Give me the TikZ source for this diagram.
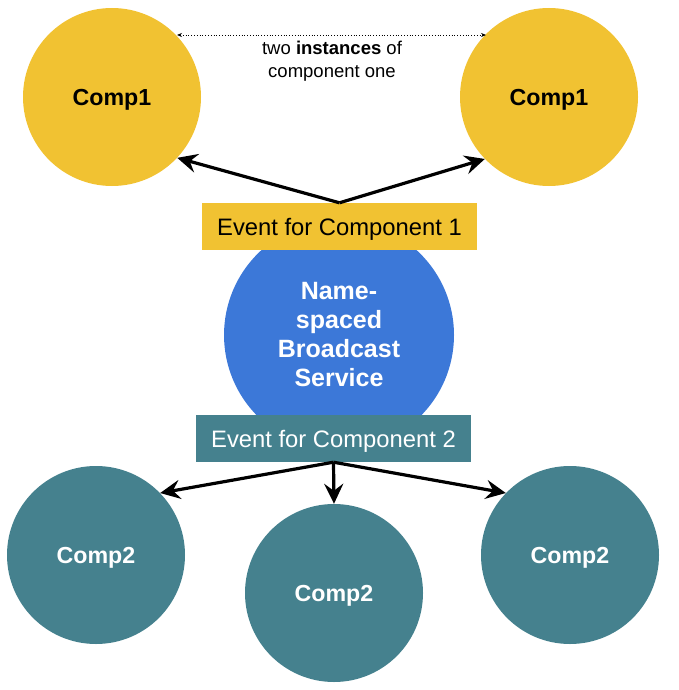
\documentclass[tikz,border=0pt]{standalone}
\usepackage{fontspec}
\setmainfont{Liberation Sans}
\usetikzlibrary{arrows.meta}
\definecolor{cyellow}{HTML}{F1C232}
\definecolor{cblue}{HTML}{3C78D8}
\definecolor{cteal}{HTML}{45818E}
\tikzset{
  comp/.style={circle, minimum size=178pt, inner sep=0pt, text depth=0pt, font=\fontsize{23.2}{28}\selectfont\bfseries},
  evbox/.style={rectangle, minimum width=275pt, minimum height=47pt, inner sep=0pt, text depth=0pt, font=\fontsize{23.8}{28}\selectfont},
  conn/.style={line width=3.2pt, -{Stealth[length=20pt,width=19pt,inset=7pt]}},
}
\begin{document}
\begin{tikzpicture}[x=1pt,y=-1pt]
\useasboundingbox (0,0) rectangle (678,690);
% central service
\node[circle, fill=cblue, minimum size=230pt, inner sep=0pt, text=white, align=center,
      font=\fontsize{25}{29}\selectfont\bfseries] (svc) at (339,335) {Name-\\spaced\\Broadcast\\Service};
% comp1
\node[comp, fill=cyellow] (c1l) at (112,97) {Comp1};
\node[comp, fill=cyellow] (c1r) at (549,97) {Comp1};
% comp2
\node[comp, fill=cteal, text=white] (c2l) at (96,555) {Comp2};
\node[comp, fill=cteal, text=white] (c2m) at (334,593) {Comp2};
\node[comp, fill=cteal, text=white] (c2r) at (570,555) {Comp2};
% event boxes
\node[evbox, fill=cyellow] (e1) at (339.5,226.5) {Event for Component 1};
\node[evbox, fill=cteal, text=white] (e2) at (333.5,438.5) {Event for Component 2};
% dotted link
\coordinate (dl) at (177,35);
\coordinate (dr) at (486,35);
\draw[dotted, line width=0.8pt, {Stealth[length=5pt,width=4pt]}-{Stealth[length=5pt,width=4pt]}] (dl) -- (dr);
\node[align=center, font=\fontsize{18.5}{23}\selectfont] (note) at (332,61) {two \textbf{instances} of\\component one};
% arrows
\draw[conn] (e1.north) -- (c1l.-43);
\draw[conn] (e1.north) -- (c1r.-136);
\draw[conn] (e2.south) -- (c2l.44.6);
\draw[conn] (e2.south) -- (c2m.north);
\draw[conn] (e2.south) -- (c2r.136);
\end{tikzpicture}
\end{document}
